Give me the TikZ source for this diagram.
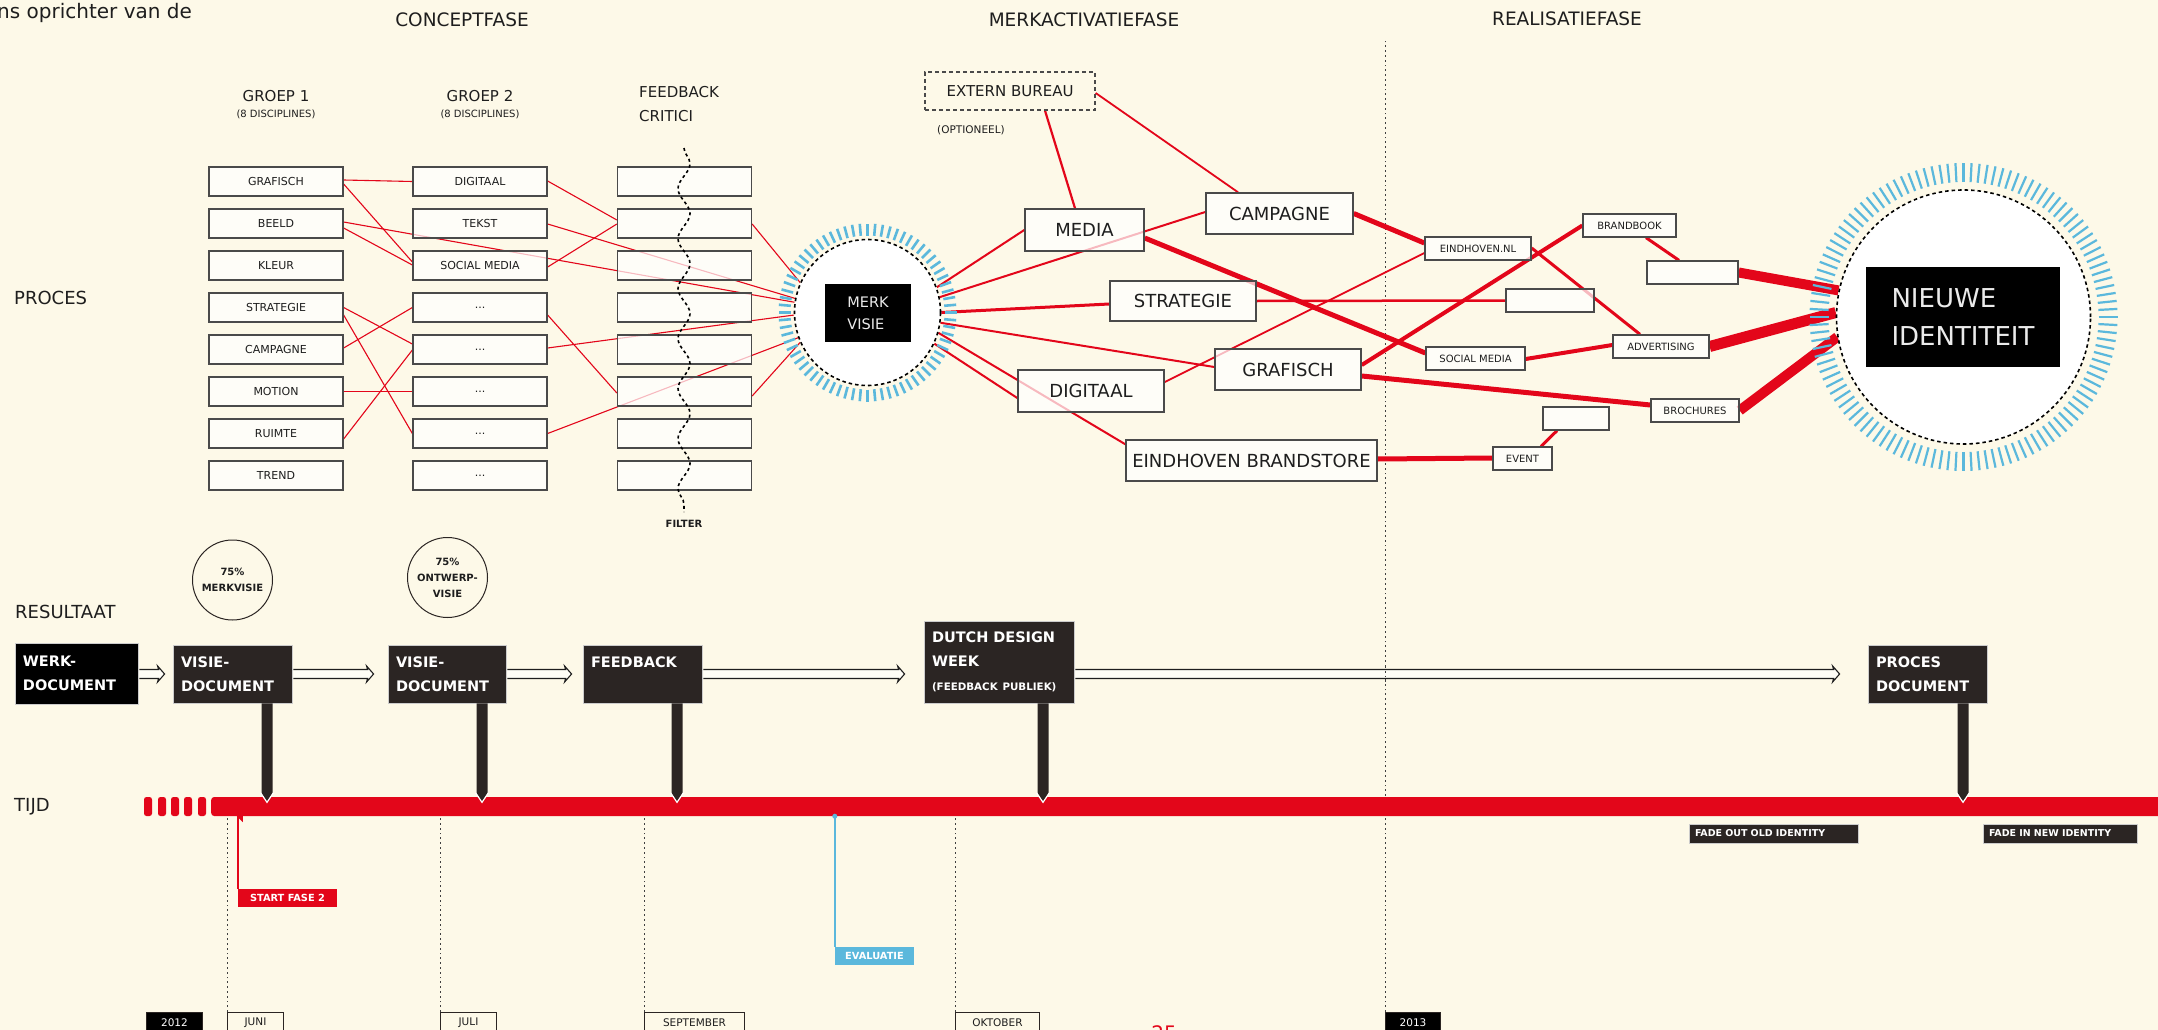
\documentclass[tikz,border=0pt]{standalone}
\usepackage{fontspec}
\setmainfont{DejaVu Sans}
\usetikzlibrary{calc,decorations.pathmorphing}
\definecolor{bgc}{HTML}{FDF9E8}
\definecolor{rd}{HTML}{E3061A}
\definecolor{tb}{HTML}{5BB8DC}
\definecolor{dk}{HTML}{2B2523}
\definecolor{bl}{HTML}{4A4A4A}
\definecolor{tx}{HTML}{1E1E1E}
\newcommand{\fs}[1]{\fontsize{#1}{#1}\selectfont}
\newcommand{\dotsx}{...}
\pgfdeclarelayer{back}\pgfdeclarelayer{lines}\pgfsetlayers{back,lines,main}
\newcommand{\docarrow}[3]{%
\draw[line width=1.1pt, draw=tx, fill=white!60!bgc]
 ($(#1.east |- 0,674)+(1,-4.5)$) -- ($(#2.west |- 0,674)+(-#3-6,-4.5)$) -- ($(#2.west |- 0,674)+(-#3-7,-8)$) -- ($(#2.west |- 0,674)+(-#3,0)$) -- ($(#2.west |- 0,674)+(-#3-7,8)$) -- ($(#2.west |- 0,674)+(-#3-6,4.5)$) -- ($(#1.east |- 0,674)+(1,4.5)$);}
\newcommand{\mystem}[2]{%
 \path let \p1=($(#1.south)+(#2,0)$), \p2=(tl.north) in (\p1) coordinate (s1) (\x1,\y2) coordinate (s2);
 \fill[dk] ($(s1)+(-5.5,0)$) -- ($(s2)+(-5.5,-4)$) -- ($(s2)+(0,5)$) -- ($(s2)+(5.5,-4)$) -- ($(s1)+(5.5,0)$) -- cycle;
 \draw[white,line width=1.2pt] ($(s2)+(-6.5,-4)$) -- ($(s2)+(0,5.5)$) -- ($(s2)+(6.5,-4)$);}
\begin{document}
\begin{tikzpicture}[x=1pt,y=-1pt,
 lbox/.style={draw=bl,line width=1.3pt,fill=white,fill opacity=0.72,text opacity=1,minimum width=134pt,minimum height=29pt,inner sep=0pt,font=\fs{11},text=tx},
 bbox/.style={draw=bl,line width=1.5pt,fill=white,fill opacity=0.72,text opacity=1,minimum height=41pt,inner sep=0pt,font=\fs{18},text=tx},
 sbox/.style={draw=bl,line width=1.3pt,fill=white,fill opacity=0.72,text opacity=1,minimum height=23pt,inner sep=0pt,font=\fs{10},text=tx},
 lnk/.style={draw=rd,line width=1.1pt},
 rl/.style={draw=rd,line width=#1},
 rbox/.style={fill=dk,draw=white!80!black,line width=0.8pt,text=white,font=\fontsize{14.5}{24}\selectfont\bfseries,align=left,inner xsep=8pt,inner ysep=0pt},
 mbox/.style={draw=dk,line width=1pt,minimum height=20pt,inner sep=0pt,font=\fs{10.5},text=tx,anchor=north west},
 lab/.style={font=\fs{18},text=tx,inner sep=0pt},
 dotl/.style={draw=black!75,line width=0.9pt,dash pattern=on 1.8pt off 3pt},
 tag/.style={font=\fs{9.8}\bfseries,text=white,inner sep=0pt,minimum height=18pt}]

\begin{pgfonlayer}{back}
\fill[bgc] (0,0) rectangle (2158,1030);
\end{pgfonlayer}
\useasboundingbox (0,0) rectangle (2158,1030);

% ---------- headings ----------
\node[anchor=base west,font=\fs{20},text=tx,inner sep=0pt] (hdr) at (-3,19) {ns oprichter van de};
\node[lab,font=\fs{18.5}] (ph1) at (462,20) {CONCEPTFASE};
\node[lab,font=\fs{18.5}] (ph2) at (1084,20) {MERKACTIVATIEFASE};
\node[lab,font=\fs{18.5}] (ph3) at (1567,19) {REALISATIEFASE};
\node[lab,anchor=west] (proces) at (14,298) {PROCES};
\node[lab,anchor=west] (resultaat) at (15,612) {RESULTAAT};
\node[lab,anchor=west] (tijd) at (14,807) {TIJD};

\node[lab,font=\fs{15}] (gr1) at (276,96) {GROEP 1};
\node[lab,font=\fs{10}] (gr1s) at (276,114) {(8 DISCIPLINES)};
\node[lab,font=\fs{15}] (gr2) at (480,96) {GROEP 2};
\node[lab,font=\fs{10}] (gr2s) at (480,114) {(8 DISCIPLINES)};
\node[lab,font=\fontsize{15}{24}\selectfont,align=left,anchor=west] (fbh) at (639,104) {FEEDBACK\\CRITICI};

% ---------- concept boxes ----------
\foreach \t [count=\i] in {GRAFISCH,BEELD,KLEUR,STRATEGIE,CAMPAGNE,MOTION,RUIMTE,TREND}
  \node[lbox] (g1r\i) at (276,{181.5+42*(\i-1)}) {\t};
\foreach \t [count=\i] in {DIGITAAL,TEKST,SOCIAL MEDIA,\dotsx,\dotsx,\dotsx,\dotsx,\dotsx}
  \node[lbox] (g2r\i) at (480,{181.5+42*(\i-1)}) {\t};
\foreach \i in {1,2,3,4,5,6,7,8}
  \node[lbox] (fr\i) at (684.5,{181.5+42*(\i-1)}) {};
\draw[black,line width=1.6pt,dash pattern=on 3pt off 3pt,decorate,decoration={snake,amplitude=6pt,segment length=50pt}] (684,148) -- (684,512);
\node[font=\fs{10}\bfseries,text=tx,inner sep=0pt] (filter) at (684,524) {FILTER};

% ---------- merk visie ----------
\node[circle,draw=black,line width=1.6pt,dash pattern=on 3.5pt off 3pt,fill=white,minimum size=146pt,inner sep=0pt] (mv) at (867.5,312.5) {};
\foreach \a in {0,5,...,355}
  \draw[tb,line width=2.6pt] ($(mv.center)+(\a:77)$) -- ($(mv.center)+(\a:89)$);
\node[fill=black,minimum width=86pt,minimum height=58pt,text=white!92!black,font=\fontsize{14.5}{22}\selectfont,align=left,inner sep=0pt] (mvb) at (868,313) {MERK\\VISIE};

% ---------- activation boxes ----------
\node[draw=bl,line width=1.3pt,dash pattern=on 4pt off 3pt,minimum width=170pt,minimum height=38pt,inner sep=0pt,font=\fs{15},text=tx] (ext) at (1010,91) {EXTERN BUREAU};
\node[font=\fs{10.5},text=tx,anchor=west,inner sep=0pt] (opt) at (937,130) {(OPTIONEEL)};
\node[bbox,minimum width=119pt,minimum height=42pt] (media) at (1084.5,230) {MEDIA};
\node[bbox,minimum width=147pt] (camp) at (1279.5,213.5) {CAMPAGNE};
\node[bbox,minimum width=146pt,minimum height=40pt] (strat) at (1183,301) {STRATEGIE};
\node[bbox,minimum width=146pt] (graf) at (1288,369.5) {GRAFISCH};
\node[bbox,minimum width=146pt,minimum height=42pt] (dig) at (1091,391) {DIGITAAL};
\node[bbox,minimum width=251pt] (ebs) at (1251.5,460.5) {EINDHOVEN BRANDSTORE};

\node[sbox,minimum width=106pt] (enl) at (1478,248.5) {EINDHOVEN.NL};
\node[sbox,minimum width=93pt] (bb) at (1629.5,225.5) {BRANDBOOK};
\node[sbox,minimum width=91pt] (b1) at (1692.5,272.5) {};
\node[sbox,minimum width=88pt] (b2) at (1550,300.5) {};
\node[sbox,minimum width=96pt] (adv) at (1661,346.5) {ADVERTISING};
\node[sbox,minimum width=99pt] (smd) at (1475.5,358.5) {SOCIAL MEDIA};
\node[sbox,minimum width=88pt] (bro) at (1695,410.5) {BROCHURES};
\node[sbox,minimum width=66pt] (b3) at (1576,418.5) {};
\node[sbox,minimum width=59pt] (ev) at (1522.5,458.5) {EVENT};

% ---------- nieuwe identiteit ----------
\node[circle,draw=black,line width=1.6pt,dash pattern=on 3.5pt off 3pt,fill=white,minimum size=254pt,inner sep=0pt] (ni) at (1963.5,317) {};
\foreach \a in {0,3,...,357}
  \draw[tb,line width=2.2pt] ($(ni.center)+(\a:135)$) -- ($(ni.center)+(\a:154)$);
\node[fill=black,minimum width=194pt,minimum height=100pt,text=white!92!black,font=\fontsize{26}{38}\selectfont,align=left,inner sep=0pt] (nib) at (1963,317) {NIEUWE\\IDENTITEIT};

% ---------- connectors ----------
\begin{pgfonlayer}{lines}
\begin{scope}[lnk]
\draw ($(g1r1.east)+(0,-1.5)$) -- (g2r1.west);
\draw ($(g1r1.east)+(0,2.5)$) -- ($(g2r3.west)+(0,-3.5)$);
\draw ($(g1r2.east)+(0,-1.5)$) -- (mv.172.5);
\draw ($(g1r2.east)+(0,4.5)$) -- ($(g2r3.west)+(0,-0.5)$);
\draw ($(g2r1.east)+(0,-0.5)$) -- ($(fr2.west)+(0,-3.5)$);
\draw ($(g2r2.east)+(0,0.5)$) -- (mv.169);
\draw ($(g2r3.east)+(0,1.5)$) -- ($(fr2.west)+(0,0.5)$);
\draw ($(fr2.east)+(0,0.5)$) -- (mv.156);
\draw (g1r4.east) -- ($(g2r5.west)+(0,-5.5)$);
\draw ($(g1r4.east)+(0,7.5)$) -- (g2r7.west);
\draw ($(g1r5.east)+(0,-1.5)$) -- (g2r4.west);
\draw (g1r6.east) -- (g2r6.west);
\draw ($(g1r7.east)+(0,5.5)$) -- ($(g2r5.west)+(0,0.5)$);
\draw ($(g2r4.east)+(0,7.5)$) -- ($(fr6.west)+(0,1.5)$);
\draw ($(g2r5.east)+(0,-1.5)$) -- (mv.182);
\draw (g2r7.east) -- (mv.200);
\draw ($(fr6.east)+(0,4.5)$) -- (mv.204);
\end{scope}
\draw[rl=2.2pt] ($(ext.south)+(35,0)$) -- ($(media.north)+(-9.5,0)$);
\draw[rl=1.8pt] ($(ext.east)+(0,2)$) -- ($(camp.north)+(-41.5,0)$);
\draw[rl=2pt] (mv.20) -- (media.west);
\draw[rl=2pt] (mv.12) -- ($(camp.west)+(0,-1.5)$);
\draw[rl=3pt] (mv.0) -- ($(strat.west)+(0,3)$);
\draw[rl=2pt] (mv.352) -- ($(graf.west)+(0,-2.5)$);
\draw[rl=2pt] (mv.344) -- ($(ebs.north west)+(0,5)$);
\draw[rl=2pt] (mv.335) -- ($(dig.west)+(0,7)$);
\draw[rl=1.8pt] ($(dig.east)+(0,-9)$) -- ($(enl.west)+(0,4.5)$);
\draw[rl=5pt] ($(media.east)+(0,8)$) -- ($(smd.west)+(0,-5.5)$);
\draw[rl=5pt] (camp.east) -- ($(enl.west)+(0,-5.5)$);
\draw[rl=2.5pt] (strat.east) -- (b2.west);
\draw[rl=4pt] ($(graf.east)+(0,-4.5)$) -- (bb.west);
\draw[rl=5pt] ($(graf.east)+(0,6.5)$) -- ($(bro.west)+(0,-5.5)$);
\draw[rl=5pt] ($(ebs.east)+(0,-1.5)$) -- ($(ev.west)+(0,-0.5)$);
\draw[rl=3pt] ($(enl.east)+(0,-0.5)$) -- ($(adv.north)+(-21,0)$);
\draw[rl=4pt] ($(smd.east)+(0,0.5)$) -- ($(adv.west)+(0,-1.5)$);
\draw[rl=3pt] ($(bb.south)+(16.5,0)$) -- ($(b1.north)+(-13.5,0)$);
\draw[rl=3pt] ($(ev.north)+(18.5,0)$) -- ($(b3.south)+(-19,0)$);
\draw[rl=10pt] (b1.east) -- (ni.168.7);
\draw[rl=11pt] (adv.east) -- (ni.178);
\draw[rl=10pt] (bro.east) -- (ni.189);
\end{pgfonlayer}

% ---------- result row ----------
\node[circle,draw=dk,line width=1pt,minimum size=80pt,inner sep=0pt,font=\fontsize{10}{16}\selectfont\bfseries,align=center,text=tx] (c1) at (232.5,580) {75\%\\MERKVISIE};
\node[circle,draw=dk,line width=1pt,minimum size=80pt,inner sep=0pt,font=\fontsize{10}{16}\selectfont\bfseries,align=center,text=tx] (c2) at (447.5,577.5) {75\%\\ONTWERP-\\VISIE};

\node[rbox,fill=black,text width=107pt,minimum height=61pt] (werk) at (76.5,673.5) {WERK-\\DOCUMENT};
\node[rbox,text width=103pt,minimum height=58pt] (vd1) at (232.5,674) {VISIE-\\DOCUMENT};
\node[rbox,text width=102pt,minimum height=58pt] (vd2) at (447,674) {VISIE-\\DOCUMENT};
\node[rbox,text width=103pt,minimum height=58pt] (fbk) at (642.5,674) {FEEDBACK\\\mbox{}};
\node[rbox,text width=134pt,minimum height=82pt] (ddw) at (999,662) {DUTCH DESIGN\\WEEK\\{\fontsize{10.3}{24}\selectfont (FEEDBACK PUBLIEK)}};
\node[rbox,text width=103pt,minimum height=58pt] (pd) at (1927.5,674) {PROCES\\DOCUMENT};

\docarrow{werk}{vd1}{8}
\docarrow{vd1}{vd2}{14}
\docarrow{vd2}{fbk}{11}
\docarrow{fbk}{ddw}{19}
\docarrow{ddw}{pd}{28}

% ---------- month labels ----------
\node[mbox,fill=black,text=white,minimum width=56pt] (y2012) at (146,1012) {2012};
\node[mbox,minimum width=56pt] (juni) at (227,1012) {JUNI};
\node[mbox,minimum width=56pt] (juli) at (440,1012) {JULI};
\node[mbox,minimum width=100pt] (sept) at (644,1012) {SEPTEMBER};
\node[mbox,minimum width=84pt] (okt) at (955,1012) {OKTOBER};
\node[mbox,fill=black,text=white,minimum width=55pt] (y2013) at (1385,1012) {2013};
\node[font=\fs{20},text=rd,anchor=north,inner sep=0pt] (pnum) at (1164,1025) {25};

\begin{pgfonlayer}{back}
\draw[dotl] (y2013.north west) -- (y2013.north west |- 0,41);
\end{pgfonlayer}
% dotted year line stays visible across the document arrow
\draw[dotl] (y2013.north west |- 0,666) -- (y2013.north west |- 0,682);

% ---------- timeline ----------
\foreach \x in {144,158,171,184,198}
  \fill[rd,rounded corners=2.5pt] (\x,797) rectangle (\x+8,816);
\node[fill=rd,rounded corners=3pt,minimum width=1960pt,minimum height=19pt,inner sep=0pt,anchor=west] (tl) at (211,806.5) {};

\draw[dotl] ($(y2012.north west)+(2,0)$) -- ($(y2012.north west)+(2,0)$ |- tl.south);
\draw[dotl] (juni.north west) -- (juni.north west |- tl.south);
\draw[dotl] (juli.north west) -- (juli.north west |- tl.south);
\draw[dotl] (sept.north west) -- (sept.north west |- tl.south);
\draw[dotl] (okt.north west) -- (okt.north west |- tl.south);

\mystem{vd1}{34.5}
\mystem{vd2}{35}
\mystem{fbk}{34.5}
\mystem{ddw}{44}
\mystem{pd}{35.5}

% ---------- timeline tags ----------
\node[tag,fill=rd,minimum width=99pt] (sf) at (287.5,898) {START FASE 2};
\draw[rd,line width=2pt] (sf.north west) -- (sf.north west |- tl.south);
\fill[rd] ($(sf.north west |- tl.south)+(-1,0)$) -- ++(6,0) -- ++(0,6) -- cycle;

\node[tag,fill=tb,minimum width=79pt] (eva) at (874.5,956) {EVALUATIE};
\draw[tb,line width=1.6pt] (eva.north west) -- (eva.north west |- tl.south);
\fill[tb] (eva.north west |- tl.south) circle (2.5);

\node[tag,fill=dk,draw=white!80!black,line width=0.8pt,font=\fs{9.5}\bfseries,minimum width=169pt,minimum height=19pt,align=left,text width=157pt,inner xsep=6pt] (fo) at (1773.5,833.5) {FADE OUT OLD IDENTITY};
\draw[dk,line width=5pt] ($(fo.north west)+(17,0)$) -- ($(fo.north west)+(17,0)$ |- tl.south);
\node[tag,fill=dk,draw=white!80!black,line width=0.8pt,font=\fs{9.5}\bfseries,minimum width=154pt,minimum height=19pt,align=left,text width=142pt,inner xsep=6pt] (fi) at (2060,833.5) {FADE IN NEW IDENTITY};
\draw[dk,line width=5pt] ($(fi.north west)+(133,0)$) -- ($(fi.north west)+(133,0)$ |- tl.south);
\end{tikzpicture}
\end{document}
